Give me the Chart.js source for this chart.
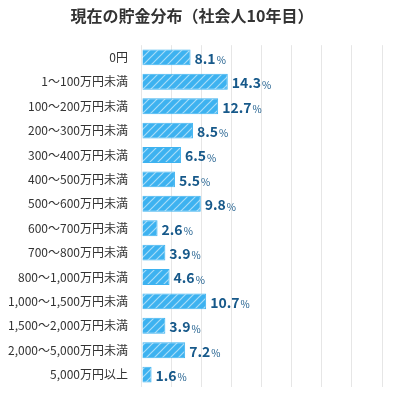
<!DOCTYPE html>
<html>
<head>
<meta charset="utf-8">
<script src="https://cdn.jsdelivr.net/npm/chart.js@4"></script>
<style>
  body { margin: 0; background: #fff; }
  #wrap { width: 400px; height: 400px; }
</style>
</head>
<body>
<div id="wrap"><canvas id="chart"></canvas></div>
<script>
const categories = ['0円', '1〜100万円未満', '100〜200万円未満', '200〜300万円未満', '300〜400万円未満',
  '400〜500万円未満', '500〜600万円未満', '600〜700万円未満', '700〜800万円未満', '800〜1,000万円未満',
  '1,000〜1,500万円未満', '1,500〜2,000万円未満', '2,000〜5,000万円未満', '5,000万円以上'];
const shares = [8.1, 14.3, 12.7, 8.5, 6.5, 5.5, 9.8, 2.6, 3.9, 4.6, 10.7, 3.9, 7.2, 1.6];

const FONT = '"Noto Sans CJK JP", "Noto Sans", sans-serif';

function makeHatch() {
  const c = document.createElement('canvas');
  c.width = 8; c.height = 8;
  const g = c.getContext('2d');
  g.fillStyle = '#3db2f0';
  g.fillRect(0, 0, 8, 8);
  g.strokeStyle = 'rgba(255,255,255,0.55)';
  g.lineWidth = 1.2;
  g.beginPath();
  g.moveTo(0, 8); g.lineTo(8, 0);
  g.moveTo(-4, 4); g.lineTo(4, -4);
  g.moveTo(4, 12); g.lineTo(12, 4);
  g.stroke();
  return document.getElementById('chart').getContext('2d').createPattern(c, 'repeat');
}

const valueLabels = {
  id: 'valueLabels',
  afterDatasetsDraw(chart) {
    const ctx = chart.ctx;
    const meta = chart.getDatasetMeta(0);
    ctx.save();
    ctx.textBaseline = 'middle';
    ctx.fillStyle = '#17598a';
    meta.data.forEach((bar, i) => {
      const num = shares[i].toFixed(1);
      ctx.font = 'bold 14px ' + FONT;
      const x = bar.x + 4;
      ctx.fillText(num, x, bar.y + 1);
      const w = ctx.measureText(num).width;
      ctx.font = '10px ' + FONT;
      ctx.fillText('%', x + w + 1, bar.y + 3);
    });
    ctx.restore();
  }
};

new Chart(document.getElementById('chart'), {
  type: 'bar',
  data: {
    labels: categories,
    datasets: [{
      data: shares,
      backgroundColor: makeHatch(),
      borderColor: '#3db2f0',
      borderWidth: 1,
      barPercentage: 0.65,
      categoryPercentage: 1
    }]
  },
  options: {
    indexAxis: 'y',
    responsive: true,
    maintainAspectRatio: false,
    animation: false,
    layout: { padding: { left: 2, right: 18, top: 0, bottom: 4 } },
    plugins: {
      legend: { display: false },
      tooltip: { enabled: false },
      title: {
        display: true,
        text: '現在の貯金分布（社会人10年目）',
        color: '#333',
        font: { family: FONT, size: 16, weight: 'bold' },
        padding: { top: 6, bottom: 20 }
      }
    },
    scales: {
      x: {
        min: 0, max: 40,
        ticks: { display: false, stepSize: 5 },
        grid: { color: '#e6e6e6', drawTicks: false },
        border: { display: false }
      },
      y: {
        ticks: { color: '#333', font: { family: FONT, size: 12 }, padding: 6 },
        grid: { display: false },
        border: { display: false }
      }
    }
  },
  plugins: [valueLabels]
});
</script>
</body>
</html>
